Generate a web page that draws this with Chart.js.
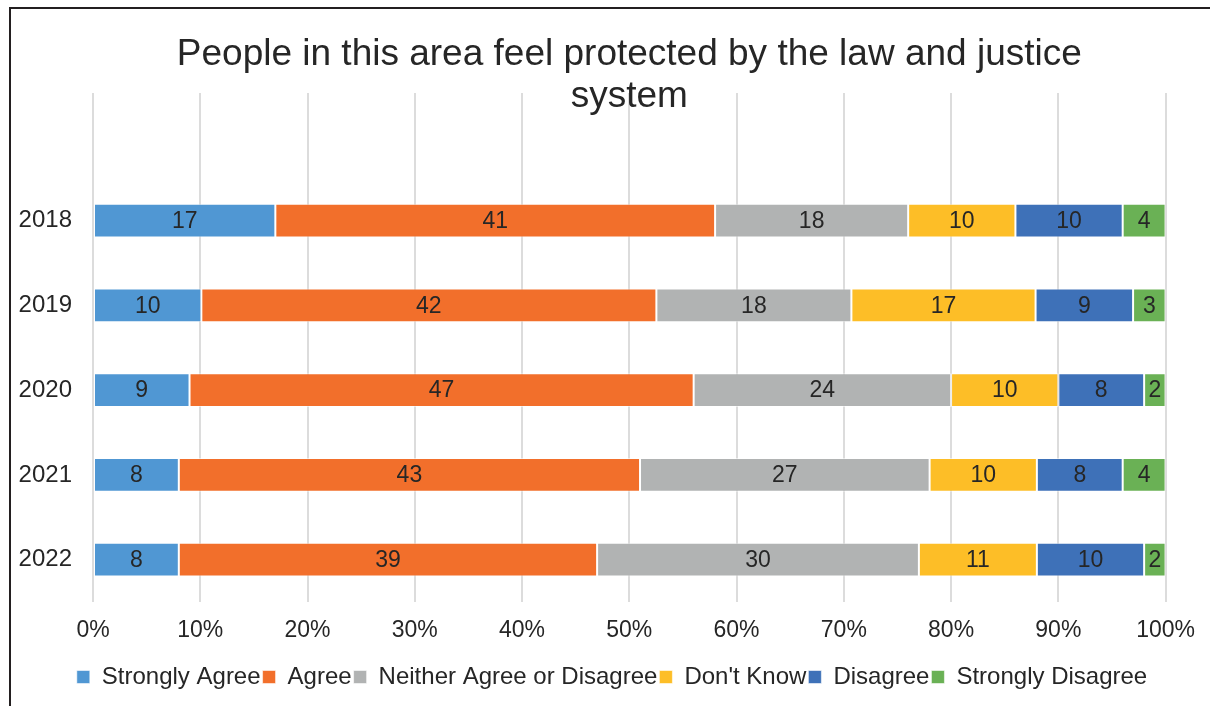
<!DOCTYPE html>
<html>
<head>
<meta charset="utf-8">
<script src="https://cdn.jsdelivr.net/npm/chart.js@4/dist/chart.umd.min.js"></script>
<style>
  html, body { margin: 0; padding: 0; background: #ffffff; }
  #wrap { position: relative; width: 1210px; height: 706px; }
  #frame { position: absolute; left: 9px; top: 7px; width: 1210px; height: 706px;
           border-left: 2px solid #231f20; border-top: 2px solid #231f20; pointer-events: none; }
</style>
</head>
<body>
<div id="wrap">
  <canvas id="c" width="1210" height="706"></canvas>
  <div id="frame"></div>
</div>
<script>
const titleLines = ['People in this area feel protected by the law and justice', 'system'];
const years = ['2018', '2019', '2020', '2021', '2022'];
const seriesNames = ['Strongly Agree', 'Agree', 'Neither Agree or Disagree', "Don't Know", 'Disagree', 'Strongly Disagree'];
const stronglyAgree    = [17, 10, 9, 8, 8];
const agree            = [41, 42, 47, 43, 39];
const neither          = [18, 18, 24, 27, 30];
const dontKnow         = [10, 17, 10, 10, 11];
const disagree         = [10, 9, 8, 8, 10];
const stronglyDisagree = [4, 3, 2, 4, 2];
const tickLabels = ['0%', '10%', '20%', '30%', '40%', '50%', '60%', '70%', '80%', '90%', '100%'];

const colors = ['#5097D3', '#F26F2B', '#B1B3B3', '#FDBE27', '#3E71B8', '#6AB155'];
const raw = [stronglyAgree, agree, neither, dontKnow, disagree, stronglyDisagree];
// 100% stacked: share of each answer within its year
const totals = years.map((_, j) => raw.reduce((s, arr) => s + arr[j], 0));
const datasets = raw.map((arr, i) => ({
  label: seriesNames[i],
  data: arr.map((v, j) => v / totals[j] * 100),
  backgroundColor: colors[i],
  borderColor: 'rgba(255,255,255,0.55)',
  borderWidth: 1,
  borderSkipped: false,
  barPercentage: 0.4,
  categoryPercentage: 1.0
}));

const FONT = "'Liberation Sans', Arial, sans-serif";
const TEXT = '#262626';
const GRID = '#dcdcdc';
const GRID_TOP = 93;
const PAD_LEFT = 14;

const gridExtend = {
  id: 'gridExtend',
  beforeDraw(chart) {
    const sx = chart.scales.x, ctx = chart.ctx, top = chart.chartArea.top;
    ctx.save();
    ctx.strokeStyle = GRID;
    ctx.lineWidth = 2;
    sx.ticks.forEach((t, i) => {
      const px = Math.round(sx.getPixelForTick(i));
      ctx.beginPath();
      ctx.moveTo(px, GRID_TOP);
      ctx.lineTo(px, top + 1);
      ctx.stroke();
    });
    ctx.restore();
  }
};

const barLabels = {
  id: 'barLabels',
  afterDatasetsDraw(chart) {
    const ctx = chart.ctx;
    ctx.save();
    ctx.font = '23px ' + FONT;
    ctx.fillStyle = TEXT;
    ctx.textAlign = 'center';
    ctx.textBaseline = 'middle';
    chart.data.datasets.forEach((ds, i) => {
      const meta = chart.getDatasetMeta(i);
      meta.data.forEach((bar, j) => {
        const p = bar.getProps(['x', 'y', 'base'], true);
        ctx.fillText(String(raw[i][j]), (p.x + p.base) / 2, p.y + 1);
      });
    });
    ctx.restore();
  }
};

new Chart(document.getElementById('c'), {
  type: 'bar',
  data: { labels: years, datasets: datasets },
  plugins: [gridExtend, barLabels],
  options: {
    indexAxis: 'y',
    responsive: false,
    animation: false,
    layout: { padding: { left: PAD_LEFT, right: 0, top: 0, bottom: 7 } },
    scales: {
      x: {
        stacked: true,
        min: 0, max: 100,
        grid: { color: GRID, lineWidth: 2, drawTicks: false },
        border: { display: false },
        ticks: {
          stepSize: 10,
          padding: 15,
          color: TEXT,
          font: { family: FONT, size: 23 },
          callback: (v, i) => tickLabels[i]
        },
        afterFit(s) { s.height = 61; }
      },
      y: {
        stacked: true,
        grid: { display: false, drawTicks: false },
        border: { display: false },
        ticks: { padding: 21, color: TEXT, font: { family: FONT, size: 24 } },
        afterFit(s) { s.width = 93 - PAD_LEFT; }
      },
      pad: {
        type: 'linear',
        position: 'right',
        grid: { display: false, drawTicks: false },
        border: { display: false },
        ticks: { display: false },
        afterFit(s) { s.width = 43; }
      }
    },
    plugins: {
      tooltip: { enabled: false },
      title: {
        display: true,
        fullSize: false,
        text: titleLines,
        color: TEXT,
        font: { family: FONT, size: 37, weight: 'normal', lineHeight: 1.125 },
        padding: { top: 34, bottom: 61 }
      },
      legend: {
        position: 'bottom',
        labels: {
          boxWidth: 13,
          boxHeight: 13,
          padding: 2,
          color: TEXT,
          font: { family: FONT, size: 24 }
        }
      }
    }
  }
});
</script>
</body>
</html>
